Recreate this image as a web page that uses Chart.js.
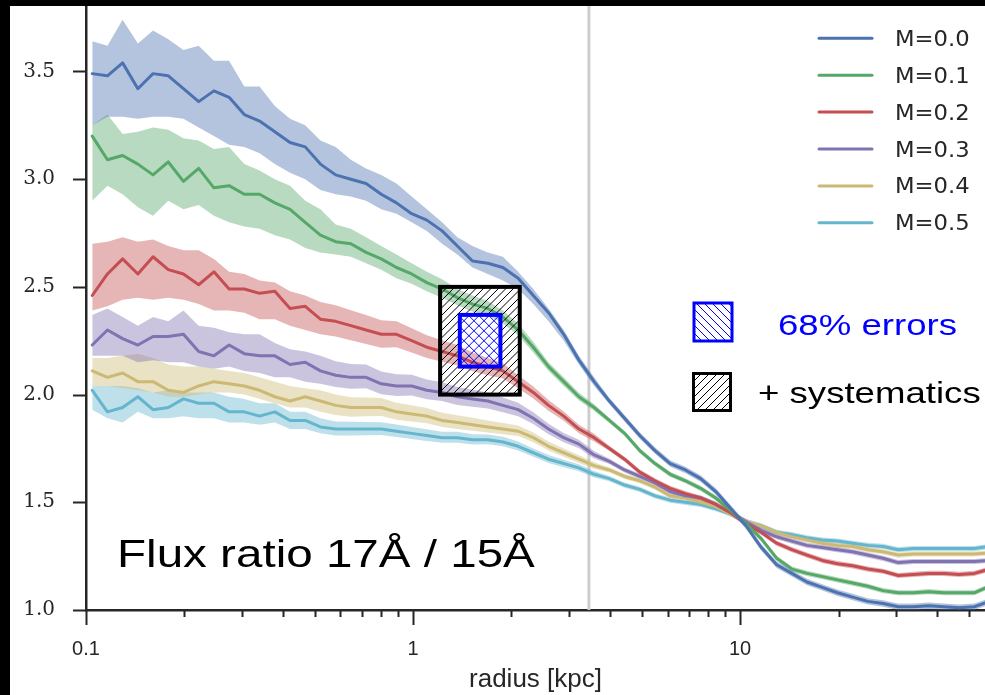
<!DOCTYPE html>
<html>
<head>
<meta charset="utf-8">
<title>Flux ratio 17Å / 15Å</title>
<script src="https://cdn.jsdelivr.net/npm/chart.js@4.4.1/dist/chart.umd.min.js"></script>
<style>
    html, body { margin: 0; padding: 0; background: #fff; overflow: hidden; }
    #wrap {
        width: 985px; height: 695px; box-sizing: border-box;
        border-top: 6px solid #000; border-left: 10px solid #000;
        background: #fff;
    }
    canvas { display: block; }
</style>
</head>
<body>
<div id="wrap"><canvas id="fluxChart" width="975" height="689"></canvas></div>
<script>
// Radius bins [kpc]
const radius = [
    0.1045, 0.1163, 0.1294, 0.1441, 0.1603, 0.1785, 0.1986, 0.2211, 0.2461, 0.2739,
    0.3048, 0.3395, 0.3779, 0.4206, 0.4681, 0.5210, 0.5799, 0.6454, 0.7184, 0.7995,
    0.8899, 0.9904, 1.102, 1.227, 1.366, 1.520, 1.692, 1.883, 2.096, 2.332,
    2.596, 2.889, 3.216, 3.579, 3.984, 4.434, 4.935, 5.493, 6.114, 6.805,
    7.574, 8.430, 9.383, 10.44, 11.62, 12.94, 14.40, 16.02, 17.84, 19.85,
    22.09, 24.59, 27.37, 30.46, 33.90, 37.73, 42.00, 46.75, 52.03, 57.91
];

// Median flux ratio and 68% band for each model
const m00 = [3.49, 3.48, 3.54, 3.42, 3.49, 3.48, 3.42, 3.36, 3.41, 3.38, 3.30, 3.27, 3.22, 3.17, 3.15, 3.07,
    3.02, 3.00, 2.98, 2.93, 2.89, 2.84, 2.81, 2.76, 2.69, 2.62, 2.61, 2.59, 2.54, 2.46, 2.38, 2.28, 2.16, 2.06,
    1.97, 1.89, 1.81, 1.74, 1.68, 1.65, 1.61, 1.55, 1.47, 1.39, 1.29, 1.21, 1.17, 1.13, 1.105, 1.08, 1.06, 1.04, 1.03, 1.015, 1.015, 1.02, 1.015, 1.01, 1.015, 1.04];
const m00Hi = [3.64, 3.62, 3.74, 3.63, 3.69, 3.65, 3.60, 3.62, 3.55, 3.55, 3.43, 3.43, 3.34, 3.28, 3.25, 3.18,
    3.15, 3.09, 3.05, 3.02, 2.98, 2.92, 2.86, 2.80, 2.73, 2.69, 2.66, 2.64, 2.57, 2.49, 2.40, 2.30, 2.18, 2.08,
    1.985, 1.905, 1.825, 1.755, 1.695, 1.665, 1.625, 1.565, 1.485, 1.405, 1.305, 1.225, 1.185, 1.145, 1.12, 1.095, 1.075, 1.055, 1.045, 1.03, 1.03, 1.035, 1.03, 1.025, 1.03, 1.055];
const m00Lo = [3.25, 3.29, 3.29, 3.28, 3.29, 3.29, 3.28, 3.24, 3.20, 3.16, 3.15, 3.12, 3.07, 3.03, 3.00, 2.95,
    2.93, 2.92, 2.90, 2.86, 2.84, 2.80, 2.76, 2.70, 2.65, 2.59, 2.56, 2.53, 2.49, 2.42, 2.34, 2.25, 2.14, 2.04,
    1.955, 1.875, 1.795, 1.725, 1.665, 1.635, 1.595, 1.535, 1.455, 1.375, 1.275, 1.195, 1.155, 1.115, 1.09, 1.065, 1.045, 1.025, 1.015, 1.0, 1.0, 1.005, 1.0, 0.995, 1.0, 1.025];

const m01 = [3.20, 3.09, 3.11, 3.07, 3.02, 3.08, 2.99, 3.05, 2.96, 2.97, 2.93, 2.93, 2.89, 2.86, 2.80, 2.74,
    2.71, 2.70, 2.66, 2.63, 2.59, 2.56, 2.52, 2.49, 2.45, 2.42, 2.40, 2.36, 2.30, 2.22, 2.13, 2.06, 1.99, 1.94,
    1.88, 1.82, 1.74, 1.68, 1.63, 1.60, 1.565, 1.52, 1.46, 1.40, 1.33, 1.24, 1.19, 1.17, 1.155, 1.14, 1.125, 1.11, 1.09, 1.08, 1.08, 1.085, 1.08, 1.08, 1.08, 1.11];
const m01Hi = [3.25, 3.30, 3.21, 3.22, 3.24, 3.23, 3.19, 3.18, 3.14, 3.15, 3.07, 3.04, 3.00, 2.97, 2.90, 2.86,
    2.79, 2.77, 2.73, 2.69, 2.65, 2.61, 2.57, 2.535, 2.49, 2.46, 2.435, 2.39, 2.33, 2.245, 2.15, 2.08, 2.008, 1.955,
    1.892, 1.832, 1.752, 1.692, 1.642, 1.612, 1.577, 1.532, 1.472, 1.412, 1.342, 1.252, 1.202, 1.182, 1.167, 1.152, 1.137, 1.122, 1.102, 1.092, 1.092, 1.097, 1.092, 1.092, 1.092, 1.122];
const m01Lo = [2.90, 2.97, 2.93, 2.87, 2.83, 2.90, 2.86, 2.88, 2.83, 2.80, 2.78, 2.77, 2.74, 2.72, 2.68, 2.66,
    2.65, 2.64, 2.61, 2.58, 2.54, 2.515, 2.48, 2.45, 2.415, 2.385, 2.37, 2.33, 2.275, 2.195, 2.11, 2.04, 1.972, 1.925,
    1.868, 1.808, 1.728, 1.668, 1.618, 1.588, 1.553, 1.508, 1.448, 1.388, 1.318, 1.228, 1.178, 1.158, 1.143, 1.128, 1.113, 1.098, 1.078, 1.068, 1.068, 1.073, 1.068, 1.068, 1.068, 1.098];

const m02 = [2.46, 2.56, 2.63, 2.56, 2.64, 2.58, 2.56, 2.51, 2.57, 2.49, 2.49, 2.47, 2.48, 2.40, 2.41, 2.35,
    2.34, 2.32, 2.30, 2.28, 2.28, 2.25, 2.22, 2.20, 2.18, 2.15, 2.13, 2.11, 2.06, 2.01, 1.95, 1.90, 1.84, 1.80,
    1.75, 1.70, 1.64, 1.60, 1.565, 1.54, 1.52, 1.49, 1.45, 1.40, 1.36, 1.31, 1.28, 1.255, 1.23, 1.215, 1.205, 1.19, 1.18, 1.16, 1.165, 1.17, 1.17, 1.165, 1.17, 1.19];
const m02Hi = [2.70, 2.71, 2.73, 2.71, 2.72, 2.69, 2.67, 2.67, 2.63, 2.57, 2.56, 2.53, 2.52, 2.48, 2.46, 2.43,
    2.415, 2.392, 2.37, 2.345, 2.34, 2.308, 2.275, 2.252, 2.23, 2.195, 2.17, 2.145, 2.09, 2.038, 1.975, 1.922, 1.86, 1.818,
    1.762, 1.712, 1.652, 1.612, 1.577, 1.552, 1.532, 1.502, 1.462, 1.412, 1.372, 1.322, 1.292, 1.267, 1.242, 1.227, 1.217, 1.202, 1.192, 1.172, 1.177, 1.182, 1.182, 1.177, 1.182, 1.202];
const m02Lo = [2.39, 2.41, 2.44, 2.45, 2.44, 2.45, 2.44, 2.42, 2.39, 2.39, 2.38, 2.35, 2.35, 2.32, 2.30, 2.28,
    2.27, 2.252, 2.235, 2.218, 2.22, 2.195, 2.17, 2.152, 2.135, 2.108, 2.09, 2.075, 2.03, 1.982, 1.925, 1.878, 1.82, 1.782,
    1.738, 1.688, 1.628, 1.588, 1.553, 1.528, 1.508, 1.478, 1.438, 1.388, 1.348, 1.298, 1.268, 1.243, 1.218, 1.203, 1.193, 1.178, 1.168, 1.148, 1.153, 1.158, 1.158, 1.153, 1.158, 1.178];

const m03 = [2.23, 2.30, 2.26, 2.23, 2.27, 2.27, 2.28, 2.20, 2.18, 2.23, 2.19, 2.18, 2.18, 2.14, 2.15, 2.11,
    2.09, 2.08, 2.08, 2.05, 2.04, 2.04, 2.02, 2.01, 1.99, 1.98, 1.97, 1.95, 1.93, 1.89, 1.84, 1.80, 1.77, 1.72,
    1.69, 1.65, 1.62, 1.59, 1.55, 1.53, 1.52, 1.49, 1.45, 1.41, 1.37, 1.34, 1.32, 1.30, 1.29, 1.28, 1.27, 1.255, 1.24, 1.22, 1.225, 1.225, 1.225, 1.225, 1.225, 1.23];
const m03Hi = [2.37, 2.40, 2.36, 2.32, 2.36, 2.34, 2.39, 2.32, 2.31, 2.29, 2.28, 2.28, 2.24, 2.21, 2.20, 2.18,
    2.155, 2.142, 2.14, 2.107, 2.095, 2.092, 2.07, 2.057, 2.035, 2.022, 2.01, 1.986, 1.962, 1.918, 1.865, 1.822, 1.79, 1.738,
    1.702, 1.662, 1.632, 1.602, 1.562, 1.542, 1.532, 1.502, 1.462, 1.422, 1.382, 1.352, 1.332, 1.312, 1.302, 1.292, 1.282, 1.267, 1.252, 1.232, 1.237, 1.237, 1.237, 1.237, 1.237, 1.242];
const m03Lo = [2.18, 2.18, 2.18, 2.15, 2.16, 2.15, 2.15, 2.13, 2.12, 2.13, 2.11, 2.10, 2.08, 2.08, 2.06, 2.05,
    2.035, 2.027, 2.03, 2.002, 1.994, 1.996, 1.978, 1.97, 1.952, 1.944, 1.936, 1.918, 1.90, 1.863, 1.816, 1.779, 1.751, 1.703,
    1.678, 1.638, 1.608, 1.578, 1.538, 1.518, 1.508, 1.478, 1.438, 1.398, 1.358, 1.328, 1.308, 1.288, 1.278, 1.268, 1.258, 1.243, 1.228, 1.208, 1.213, 1.213, 1.213, 1.213, 1.213, 1.218];

const m04 = [2.11, 2.08, 2.10, 2.06, 2.06, 2.02, 2.01, 2.04, 2.06, 2.05, 2.04, 2.02, 1.99, 1.97, 1.99, 1.97,
    1.95, 1.94, 1.94, 1.94, 1.92, 1.91, 1.90, 1.88, 1.87, 1.86, 1.85, 1.84, 1.83, 1.80, 1.76, 1.73, 1.70, 1.67,
    1.65, 1.62, 1.60, 1.57, 1.53, 1.52, 1.50, 1.48, 1.445, 1.41, 1.39, 1.36, 1.34, 1.325, 1.31, 1.30, 1.295, 1.28, 1.27, 1.255, 1.26, 1.26, 1.26, 1.26, 1.26, 1.265];
const m04Hi = [2.17, 2.17, 2.18, 2.19, 2.17, 2.14, 2.13, 2.13, 2.12, 2.11, 2.10, 2.08, 2.06, 2.04, 2.03, 2.02,
    2.00, 1.988, 1.986, 1.984, 1.962, 1.95, 1.938, 1.916, 1.904, 1.892, 1.88, 1.868, 1.856, 1.824, 1.782, 1.75, 1.718, 1.686,
    1.662, 1.632, 1.612, 1.582, 1.542, 1.532, 1.512, 1.492, 1.457, 1.422, 1.402, 1.372, 1.352, 1.337, 1.322, 1.312, 1.307, 1.292, 1.282, 1.267, 1.272, 1.272, 1.272, 1.272, 1.272, 1.277];
const m04Lo = [2.04, 2.04, 2.03, 2.02, 2.01, 1.99, 1.99, 2.00, 2.01, 2.01, 2.00, 1.98, 1.96, 1.94, 1.94, 1.92,
    1.905, 1.897, 1.899, 1.901, 1.883, 1.875, 1.867, 1.849, 1.84, 1.832, 1.824, 1.816, 1.808, 1.779, 1.74, 1.712, 1.683, 1.655,
    1.638, 1.608, 1.588, 1.558, 1.518, 1.508, 1.488, 1.468, 1.433, 1.398, 1.378, 1.348, 1.328, 1.313, 1.298, 1.288, 1.283, 1.268, 1.258, 1.243, 1.248, 1.248, 1.248, 1.248, 1.248, 1.253];

const m05 = [2.02, 1.92, 1.94, 1.99, 1.93, 1.94, 1.98, 1.96, 1.96, 1.92, 1.92, 1.90, 1.92, 1.88, 1.88, 1.85,
    1.84, 1.84, 1.84, 1.84, 1.83, 1.82, 1.81, 1.80, 1.80, 1.79, 1.79, 1.78, 1.76, 1.73, 1.70, 1.68, 1.66, 1.63,
    1.61, 1.58, 1.56, 1.53, 1.51, 1.50, 1.49, 1.47, 1.445, 1.41, 1.39, 1.36, 1.35, 1.335, 1.325, 1.32, 1.31, 1.30, 1.295, 1.28, 1.285, 1.285, 1.285, 1.285, 1.285, 1.295];
const m05Hi = [2.04, 2.04, 2.04, 2.03, 2.01, 2.02, 2.01, 2.01, 2.01, 1.99, 1.98, 1.96, 1.96, 1.92, 1.92, 1.89,
    1.875, 1.874, 1.873, 1.872, 1.861, 1.85, 1.839, 1.828, 1.827, 1.816, 1.815, 1.804, 1.782, 1.75, 1.719, 1.698, 1.677, 1.645,
    1.622, 1.592, 1.572, 1.542, 1.522, 1.512, 1.502, 1.482, 1.457, 1.422, 1.402, 1.372, 1.362, 1.347, 1.337, 1.332, 1.322, 1.312, 1.307, 1.292, 1.297, 1.297, 1.297, 1.297, 1.297, 1.307];
const m05Lo = [1.93, 1.89, 1.87, 1.92, 1.89, 1.89, 1.90, 1.89, 1.89, 1.87, 1.87, 1.86, 1.87, 1.84, 1.84, 1.82,
    1.81, 1.81, 1.811, 1.812, 1.803, 1.794, 1.785, 1.776, 1.777, 1.768, 1.769, 1.76, 1.74, 1.711, 1.682, 1.663, 1.644, 1.615,
    1.598, 1.568, 1.548, 1.518, 1.498, 1.488, 1.478, 1.458, 1.433, 1.398, 1.378, 1.348, 1.338, 1.323, 1.313, 1.308, 1.298, 1.288, 1.283, 1.268, 1.273, 1.273, 1.273, 1.273, 1.273, 1.283];

const modelNames = ['M=0.0', 'M=0.1', 'M=0.2', 'M=0.3', 'M=0.4', 'M=0.5'];
const medians = [m00, m01, m02, m03, m04, m05];
const upper = [m00Hi, m01Hi, m02Hi, m03Hi, m04Hi, m05Hi];
const lower = [m00Lo, m01Lo, m02Lo, m03Lo, m04Lo, m05Lo];
const colors = ['#4c72b0', '#55a868', '#c44e52', '#8172b2', '#ccb974', '#64b5cd'];

// Axis ranges and tick values
const yTicks = [1.0, 1.5, 2.0, 2.5, 3.0, 3.5];
const xLabelled = [0.1, 1, 10];
const xMin = 0.1, xMax = 56.1;
const yMin = 1.0, yMax = 3.804;

// Vertical marker and the error boxes (radius range, flux ratio range)
const markerRadius = 3.45;
const sysBoxR = [1.21, 2.12], sysBoxY = [2.0, 2.5];
const statBoxR = [1.39, 1.85], statBoxY = [2.13, 2.37];

const textColor = '#262626';

function toPoints(values) {
    return radius.map((r, i) => ({ x: r, y: values[i] }));
}

function withAlpha(hex, a) {
    const n = parseInt(hex.slice(1), 16);
    return `rgba(${(n >> 16) & 255}, ${(n >> 8) & 255}, ${n & 255}, ${a})`;
}

// Bands first (upper edge, then lower edge filled to it), lines after
const datasets = [];
medians.forEach((m, k) => {
    datasets.push({
        data: toPoints(upper[k]), borderWidth: 0, pointRadius: 0, fill: false, order: 1
    });
    datasets.push({
        data: toPoints(lower[k]), borderWidth: 0, pointRadius: 0,
        fill: '-1', backgroundColor: withAlpha(colors[k], 0.42), order: 1
    });
});
medians.forEach((m, k) => {
    datasets.push({
        label: modelNames[k], data: toPoints(m), borderColor: colors[k], borderWidth: 3,
        pointRadius: 0, fill: false, order: 0, borderJoinStyle: 'round', borderCapStyle: 'round'
    });
});

function hatch(ctx, x0, y0, x1, y1, spacing, dir, color, width) {
    const h = y1 - y0;
    ctx.save();
    ctx.strokeStyle = color;
    ctx.lineWidth = width;
    ctx.beginPath();
    for (let x = x0 - h; x < x1 + h; x += spacing) {
        if (dir > 0) { ctx.moveTo(x, y1); ctx.lineTo(x + h, y0); }
        else { ctx.moveTo(x, y0); ctx.lineTo(x + h, y1); }
    }
    ctx.stroke();
    ctx.restore();
}

function stretchedText(ctx, text, x, y, font, color, sx) {
    ctx.save();
    ctx.translate(x, y);
    ctx.scale(sx, 1);
    ctx.font = font;
    ctx.fillStyle = color;
    ctx.textAlign = 'left';
    ctx.textBaseline = 'alphabetic';
    ctx.fillText(text, 0, 0);
    ctx.restore();
}

const decorations = {
    id: 'decorations',
    beforeDatasetsDraw(chart) {
        const { ctx, chartArea, scales: { x } } = chart;
        const px = x.getPixelForValue(markerRadius);
        ctx.save();
        ctx.strokeStyle = '#cdcdcd';
        ctx.lineWidth = 3;
        ctx.beginPath();
        ctx.moveTo(px, chartArea.top);
        ctx.lineTo(px, chartArea.bottom);
        ctx.stroke();
        ctx.restore();
    },
    afterDatasetsDraw(chart) {
        const { ctx, scales: { x, y } } = chart;
        const sx0 = x.getPixelForValue(sysBoxR[0]), sx1 = x.getPixelForValue(sysBoxR[1]);
        const sy0 = y.getPixelForValue(sysBoxY[1]), sy1 = y.getPixelForValue(sysBoxY[0]);
        const bx0 = x.getPixelForValue(statBoxR[0]), bx1 = x.getPixelForValue(statBoxR[1]);
        const by0 = y.getPixelForValue(statBoxY[1]), by1 = y.getPixelForValue(statBoxY[0]);

        // systematics hatch, kept out of the inner box
        ctx.save();
        ctx.beginPath();
        ctx.rect(sx0, sy0, sx1 - sx0, sy1 - sy0);
        ctx.rect(bx0, by0, bx1 - bx0, by1 - by0);
        ctx.clip('evenodd');
        hatch(ctx, sx0, sy0, sx1, sy1, 7.5, 1, '#000', 1);
        ctx.restore();

        // statistical box: cross hatch
        ctx.save();
        ctx.beginPath();
        ctx.rect(bx0, by0, bx1 - bx0, by1 - by0);
        ctx.clip();
        hatch(ctx, bx0, by0, bx1, by1, 10, 1, '#0000ff', 1);
        hatch(ctx, bx0, by0, bx1, by1, 10, -1, '#0000ff', 1);
        ctx.restore();

        ctx.save();
        ctx.lineWidth = 4;
        ctx.strokeStyle = '#000';
        ctx.strokeRect(sx0, sy0, sx1 - sx0, sy1 - sy0);
        ctx.strokeStyle = '#0000ff';
        ctx.strokeRect(bx0, by0, bx1 - bx0, by1 - by0);
        ctx.restore();
    },
    afterDraw(chart) {
        const { ctx, chartArea, scales: { x, y } } = chart;
        ctx.save();
        ctx.strokeStyle = textColor;
        ctx.lineWidth = 2;
        ctx.beginPath();
        // x tick marks: long at decades, short in between
        x.ticks.forEach(t => {
            const v = t.value;
            const e = Math.floor(Math.log10(v) + 1e-9);
            const sig = v / Math.pow(10, e);
            if (Math.abs(sig - Math.round(sig)) > 1e-6 || v > xMax) return;
            const len = Math.abs(sig - 1) < 1e-6 ? 15 : 7;
            const px = Math.round(x.getPixelForValue(v)) + 0.5;
            ctx.moveTo(px, chartArea.bottom);
            ctx.lineTo(px, chartArea.bottom + len);
        });
        yTicks.forEach(v => {
            const py = Math.round(y.getPixelForValue(v)) + 0.5;
            ctx.moveTo(chartArea.left - 13, py);
            ctx.lineTo(chartArea.left, py);
        });
        ctx.stroke();
        ctx.restore();

        // model legend
        ctx.save();
        ctx.lineWidth = 3;
        ctx.lineCap = 'round';
        modelNames.forEach((name, k) => {
            const ry = 32.3 + k * 36.9;
            ctx.strokeStyle = colors[k];
            ctx.beginPath();
            ctx.moveTo(809, ry);
            ctx.lineTo(862, ry);
            ctx.stroke();
            ctx.save();
            ctx.translate(885, ry + 7.5);
            ctx.scale(1.08, 1);
            ctx.font = '21px "DejaVu Sans"';
            ctx.fillStyle = textColor;
            ctx.fillText(name, 0, 0);
            ctx.restore();
        });
        ctx.restore();

        // error box key
        ctx.save();
        ctx.beginPath();
        ctx.rect(684, 297, 38, 38);
        ctx.clip();
        hatch(ctx, 684, 297, 722, 335, 8, -1, '#0000ff', 1);
        ctx.restore();
        ctx.save();
        ctx.lineWidth = 3;
        ctx.strokeStyle = '#0000ff';
        ctx.strokeRect(684, 297, 38, 38);
        ctx.restore();

        ctx.save();
        ctx.beginPath();
        ctx.rect(683.5, 367.5, 37, 37);
        ctx.clip();
        hatch(ctx, 683.5, 367.5, 720.5, 404.5, 8, 1, '#000', 1);
        ctx.restore();
        ctx.save();
        ctx.lineWidth = 3;
        ctx.strokeStyle = '#000';
        ctx.strokeRect(683.5, 367.5, 37, 37);
        ctx.restore();

        stretchedText(ctx, '68% errors', 768, 329, '30px "Liberation Sans"', '#0000ff', 1.22);
        stretchedText(ctx, '+ systematics', 748, 397, '30px "Liberation Sans"', '#000', 1.22);
        stretchedText(ctx, 'Flux ratio 17Å / 15Å', 107, 561, '39px "Liberation Sans"', '#000', 1.22);
    }
};

const ctx = document.getElementById('fluxChart').getContext('2d');
const fluxChart = new Chart(ctx, {
    type: 'line',
    data: { datasets },
    options: {
        responsive: false,
        animation: false,
        devicePixelRatio: 1,
        layout: { padding: 0 },
        plugins: {
            legend: { display: false },
            tooltip: { enabled: false }
        },
        elements: { line: { tension: 0 } },
        scales: {
            x: {
                type: 'logarithmic',
                min: xMin,
                max: xMax,
                border: { display: true, color: textColor, width: 2.5 },
                grid: { display: true, drawOnChartArea: false, drawTicks: true, tickLength: 14, tickColor: 'rgba(0,0,0,0)' },
                ticks: {
                    autoSkip: false,
                    maxRotation: 0,
                    padding: 13,
                    color: textColor,
                    font: { family: '"Liberation Sans"', size: 20 },
                    callback: v => xLabelled.find(l => Math.abs(l - v) < 1e-9) !== undefined
                        ? (v < 1 ? v.toFixed(1) : v.toFixed(0)) : ''
                },
                title: {
                    display: true,
                    text: 'radius [kpc]',
                    color: textColor,
                    font: { family: '"Liberation Sans"', size: 26 },
                    padding: { top: 0, bottom: 0 }
                },
                afterFit: scale => {
                    scale.height = 85;
                    scale.paddingLeft = 0;
                    scale.paddingRight = 0;
                }
            },
            y: {
                type: 'linear',
                min: yMin,
                max: yMax,
                border: { display: true, color: textColor, width: 2.5 },
                grid: { display: true, drawOnChartArea: false, drawTicks: true, tickLength: 14, tickColor: 'rgba(0,0,0,0)' },
                ticks: {
                    stepSize: 0.5,
                    includeBounds: false,
                    padding: 17,
                    color: textColor,
                    font: { family: '"DejaVu Serif"', size: 20 },
                    callback: v => v.toFixed(1)
                },
                afterFit: scale => {
                    scale.width = 76;
                    scale.paddingTop = 0;
                    scale.paddingBottom = 0;
                }
            }
        }
    },
    plugins: [decorations]
});
</script>
</body>
</html>
